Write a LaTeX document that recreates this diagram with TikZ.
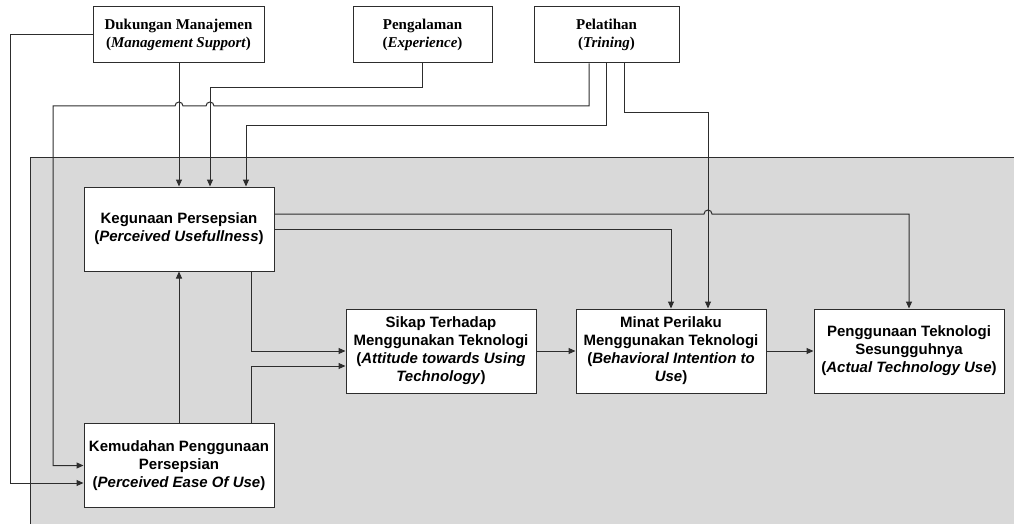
\documentclass[tikz,border=0pt]{standalone}
\usepackage{fontspec}
\setmainfont{Liberation Serif}
\setsansfont{Liberation Sans}
\usepackage{xcolor}
\usepackage{tikz}
\usetikzlibrary{arrows.meta,positioning}
\definecolor{panelgray}{RGB}{217,217,217}
\definecolor{wiregray}{RGB}{45,45,45}

\begin{document}
\begin{tikzpicture}[
    x=1pt, y=-1pt,
    topbox/.style={rectangle, draw=wiregray, fill=white, line width=1pt, minimum height=56pt, align=center, inner sep=2pt, font=\fontsize{15}{18}\selectfont\bfseries},
    tambox/.style={rectangle, draw=wiregray, fill=white, line width=1pt, minimum width=190pt, minimum height=84pt, align=center, inner sep=2pt, font=\fontsize{15}{18}\selectfont\sffamily\bfseries},
    wire/.style={draw=wiregray, line width=1pt},
    arr/.style={wire, -{Triangle[length=7pt,width=6pt]}}
]
\clip (0,0) rectangle (1014,524);
\fill[panelgray, draw=wiregray, line width=1pt] (30,157) rectangle (1040,560);

\node[topbox, minimum width=171pt] (duk) at (178.5,35) {Dukungan Manajemen\\(\textit{Management Support})};
\node[topbox, minimum width=139pt] (pen) at (422.5,35) {Pengalaman\\(\textit{Experience})};
\node[topbox, minimum width=145pt] (pel) at (606.5,35) {Pelatihan\\(\textit{Trining})};

\node[tambox] (keg) at (179,229) {Kegunaan Persepsian\\(\textit{Perceived Usefullness})};
\node[tambox] (kem) at (179,465.5) {Kemudahan Penggunaan\\Persepsian\\(\textit{Perceived Ease Of Use})};
\node[tambox] (sik) at (441,351) {Sikap Terhadap\\Menggunakan Teknologi\\(\textit{Attitude towards Using}\\\textit{Technology})};
\node[tambox] (min) at (671,351) {Minat Perilaku\\Menggunakan Teknologi\\(\textit{Behavioral Intention to}\\\textit{Use})};
\node[tambox] (pgt) at (909,351) {Penggunaan Teknologi\\Sesungguhnya\\(\textit{Actual Technology Use})};

\draw[arr] (duk.south -| keg.north) -- (keg.north);
\draw[arr] (duk.west) -- ++(-82,0) |- ([yshift=-17.5pt]kem.west);
\draw[arr] (pen.south) -- ++(0,24) -| ([xshift=31pt]keg.north);
\draw[arr] ([xshift=-17.5pt]pel.south) |- (214,106) arc[start angle=0, end angle=180, radius=4pt]
    -- (183,106) arc[start angle=0, end angle=180, radius=4pt] -- (53,106) |- (kem.west);
\draw[arr] (pel.south) -- ++(0,62) -| ([xshift=67pt]keg.north);
\draw[arr] ([xshift=17.5pt]pel.south) -- ++(0,49) -| ([xshift=37pt]min.north);

\draw[arr] ([yshift=15pt]keg.east) -- (704,214) arc[start angle=180, end angle=0, radius=4pt] -| (pgt.north);
\draw[arr] (keg.east) -| (min.north);
\draw[arr] ([xshift=72pt]keg.south) |- (sik.west);
\draw[arr] ([xshift=72pt]kem.north) |- ([yshift=-15pt]sik.west);
\draw[arr] (kem.north) -- (keg.south);
\draw[arr] (sik) -- (min);
\draw[arr] (min) -- (pgt);
\end{tikzpicture}
\end{document}
